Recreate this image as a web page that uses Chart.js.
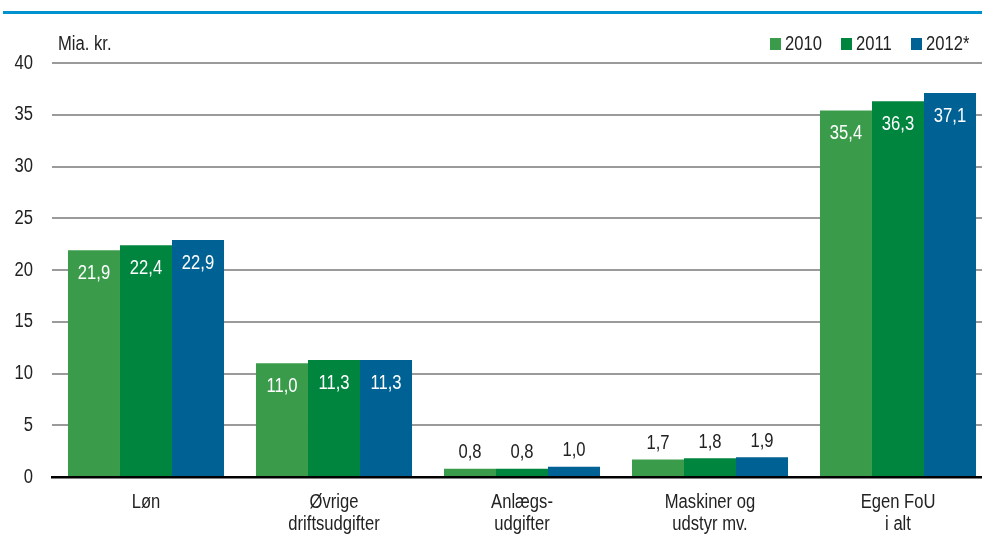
<!DOCTYPE html>
<html><head><meta charset="utf-8">
<script src="https://cdn.jsdelivr.net/npm/chart.js@4.4.1/dist/chart.umd.min.js"></script>
<style>
html,body{margin:0;padding:0;background:#fff;overflow:hidden;width:982px;height:540px;}
#wrap{position:absolute;left:0;top:0;width:992px;height:540px;}
</style></head>
<body>
<div id="wrap"><canvas id="c" width="992" height="540"></canvas></div>
<script>
const categories = [["Løn"], ["Øvrige", "driftsudgifter"], ["Anlægs-", "udgifter"], ["Maskiner og", "udstyr mv."], ["Egen FoU", "i alt"]];
const seriesNames = ["2010", "2011", "2012*"];
const values2010 = [21.9, 11.0, 0.8, 1.7, 35.4];
const values2011 = [22.4, 11.3, 0.8, 1.8, 36.3];
const values2012 = [22.9, 11.3, 1.0, 1.9, 37.1];
const yTicks = [0, 5, 10, 15, 20, 25, 30, 35, 40];
const unitLabel = "Mia. kr.";

const colors = ["#3a9c4a", "#00853f", "#006195"];
const FONT = "'Liberation Sans','Arial',sans-serif";
const SX = 0.83; // horizontal condensing of text

const fmt = v => v.toFixed(1).replace('.', ',');

function narrowText(ctx, text, x, y, align, color, size) {
  ctx.save();
  ctx.font = size + "px " + FONT;
  ctx.fillStyle = color;
  ctx.textBaseline = 'middle';
  ctx.textAlign = align;
  ctx.translate(x, y);
  ctx.scale(SX, 1);
  ctx.fillText(text, 0, 0);
  ctx.restore();
}

const deco = {
  id: 'deco',
  beforeDraw(chart) {
    const ctx = chart.ctx;
    ctx.save();
    ctx.fillStyle = '#0092cf';
    ctx.fillRect(3, 11, 990, 3);
    ctx.restore();
  },
  afterDraw(chart) {
    const ctx = chart.ctx;
    const xs = chart.scales.x, ys = chart.scales.y;
    // y tick labels
    yTicks.forEach(v => narrowText(ctx, String(v), 33, ys.getPixelForValue(v), 'right', '#222', 20));
    // category labels
    categories.forEach((lines, i) => {
      const cx = xs.getPixelForValue(i);
      lines.forEach((t, k) => narrowText(ctx, t, cx, 502 + k * 22, 'center', '#222', 20));
    });
    // data labels
    chart.data.datasets.forEach((ds, i) => {
      const meta = chart.getDatasetMeta(i);
      meta.data.forEach((bar, j) => {
        const v = ds.data[j];
        if (v > 5) narrowText(ctx, fmt(v), bar.x, bar.y + 23, 'center', '#ffffff', 20);
        else narrowText(ctx, fmt(v), bar.x, bar.y - 16, 'center', '#222', 20);
      });
    });
    // unit label
    narrowText(ctx, unitLabel, 58, 44, 'left', '#222', 20);
    // legend
    const legendX = [770, 841, 911];
    seriesNames.forEach((n, i) => {
      ctx.save();
      ctx.fillStyle = colors[i];
      ctx.fillRect(legendX[i], 38, 11, 12);
      ctx.restore();
      narrowText(ctx, n, legendX[i] + 15, 44, 'left', '#222', 20);
    });
  }
};

new Chart(document.getElementById('c'), {
  type: 'bar',
  data: {
    labels: categories,
    datasets: [
      { label: seriesNames[0], data: values2010, backgroundColor: colors[0] },
      { label: seriesNames[1], data: values2011, backgroundColor: colors[1] },
      { label: seriesNames[2], data: values2012, backgroundColor: colors[2] }
    ]
  },
  options: {
    responsive: false,
    animation: false,
    layout: { padding: { top: 63, left: 52, right: 0, bottom: 63 } },
    datasets: { bar: { categoryPercentage: 0.83, barPercentage: 1.0 } },
    plugins: { legend: { display: false }, tooltip: { enabled: false } },
    scales: {
      x: {
        grid: { display: false, drawTicks: false },
        border: { display: true, color: '#000', width: 2.5 },
        ticks: { display: false }
      },
      y: {
        min: 0, max: 40,
        afterBuildTicks: axis => { axis.ticks = yTicks.map(v => ({ value: v })); },
        grid: { color: '#9a9a9a', lineWidth: 2, drawTicks: false },
        border: { display: false },
        ticks: { display: false }
      }
    }
  },
  plugins: [deco]
});
</script>
</body></html>
